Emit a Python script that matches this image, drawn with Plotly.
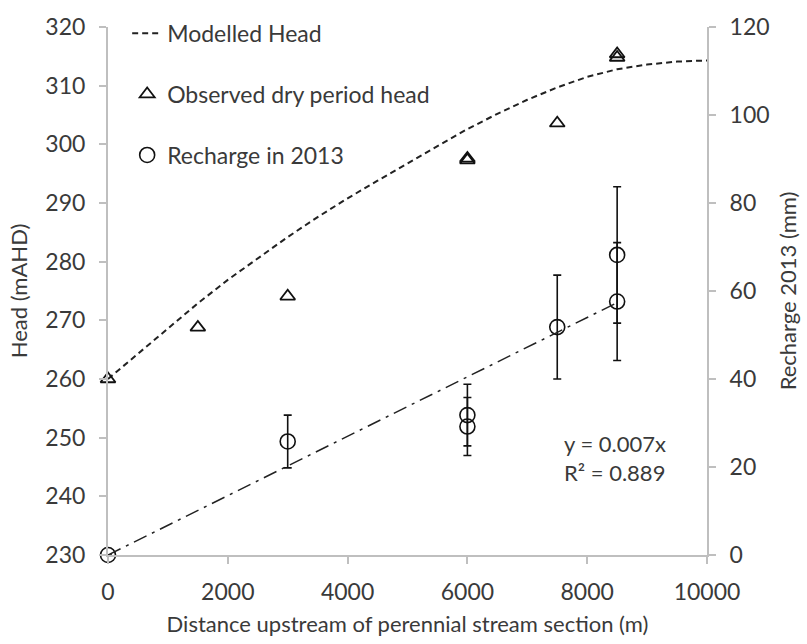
import plotly.graph_objects as go

# ---------------- data ----------------
model_x = [0, 500, 1000, 1500, 2000, 2500, 3000, 3500, 4000, 4500, 5000,
           5500, 6000, 6500, 7000, 7500, 8000, 8500, 9000, 9500, 10000]
model_head = [260.0, 264.3, 268.6, 272.9, 276.9, 280.6, 284.2, 287.6, 290.8,
              293.8, 296.8, 299.7, 302.6, 305.2, 307.6, 309.7, 311.5, 312.8,
              313.6, 314.1, 314.3]

obs_x = [0, 1500, 3000, 6000, 6000, 7500, 8500, 8500]
obs_head = [260.0, 268.8, 274.1, 297.6, 297.3, 303.6, 315.4, 314.8]

rech_x = [0, 3000, 6000, 6000, 7500, 8500, 8500]
rech_mm = [0.0, 25.8, 31.8, 29.2, 51.8, 68.2, 57.6]
rech_err = [0.0, 6.0, 7.0, 6.6, 11.8, 15.5, 13.4]

x_ticks = [0, 2000, 4000, 6000, 8000, 10000]
x_tick_labels = ["0", "2000", "4000", "6000", "8000", "10000"]
head_ticks = [230, 240, 250, 260, 270, 280, 290, 300, 310, 320]
rech_ticks = [0, 20, 40, 60, 80, 100, 120]

eq_text = "y = 0.007x"
r2_text = "R² = 0.889"

# linear trend through origin (least squares) for the recharge data
slope = sum(a * b for a, b in zip(rech_x, rech_mm)) / sum(a * a for a in rech_x)
trend_x = [0, max(rech_x)]
trend_y = [slope * v for v in trend_x]

FONT = "Lato, 'Open Sans', sans-serif"
TXT = "#3a3a3a"
AX = "#bfbfbf"
FS = 23

fig = go.Figure()

fig.add_trace(go.Scatter(
    x=model_x, y=model_head, mode="lines", name="Modelled Head",
    line=dict(color="#222222", width=2, dash="6px,4px"),
    legendgroup="a", yaxis="y", cliponaxis=False))

fig.add_trace(go.Scatter(
    x=obs_x, y=obs_head, mode="markers", name="Observed dry period head",
    marker=dict(symbol="triangle-up-open", size=13, color="#111111",
                line=dict(width=1.8, color="#111111")),
    legendgroup="b", yaxis="y", cliponaxis=False))

fig.add_trace(go.Scatter(
    x=rech_x, y=rech_mm, mode="markers", name="Recharge in 2013",
    marker=dict(symbol="circle-open", size=15, color="#111111",
                line=dict(width=1.6, color="#111111")),
    error_y=dict(type="data", array=rech_err, visible=True,
                 color="#111111", thickness=1.6, width=4),
    legendgroup="c", yaxis="y2", cliponaxis=False))

fig.add_trace(go.Scatter(
    x=trend_x, y=trend_y, mode="lines", name="trend", showlegend=False,
    line=dict(color="#222222", width=1.5, dash="14px,6px,3px,6px"),
    yaxis="y2", cliponaxis=False))

fig.add_annotation(x=7580, y=22.0, xref="x", yref="y2",
                   text=eq_text + "<br>" + r2_text,
                   showarrow=False, xanchor="left", yanchor="middle", align="left",
                   font=dict(family=FONT, size=22, color=TXT))

axis_common = dict(showgrid=False, zeroline=False, showline=True,
                   linecolor=AX, linewidth=2, ticks="outside",
                   tickcolor=AX, ticklen=7, tickwidth=1.5, automargin=False,
                   tickfont=dict(family=FONT, size=FS, color=TXT))

fig.update_layout(
    width=807, height=644,
    margin=dict(l=108, r=100, t=20, b=89),
    paper_bgcolor="white", plot_bgcolor="white",
    font=dict(family=FONT, size=FS, color=TXT),
    showlegend=True,
    legend=dict(x=0.032, y=1.029, xanchor="left", yanchor="top",
                bgcolor="rgba(0,0,0,0)", tracegroupgap=28,
                font=dict(family=FONT, size=FS, color=TXT)),
    xaxis=dict(range=[0, 10000], tickvals=x_ticks, ticktext=x_tick_labels,
               title=dict(text="Distance upstream of perennial stream section (m)",
                          font=dict(family=FONT, size=22, color=TXT), standoff=13),
               ticklabelstandoff=8, **axis_common),
    yaxis=dict(range=[230, 320], tickvals=head_ticks,
               title=dict(text="Head (mAHD)",
                          font=dict(family=FONT, size=22, color=TXT), standoff=12),
               ticklabelstandoff=9, **axis_common),
    yaxis2=dict(range=[0, 120], tickvals=rech_ticks, overlaying="y", side="right",
                title=dict(text="Recharge 2013 (mm)",
                           font=dict(family=FONT, size=22, color=TXT), standoff=12),
                ticklabelstandoff=9, **axis_common),
)

fig.write_html("out.html")
